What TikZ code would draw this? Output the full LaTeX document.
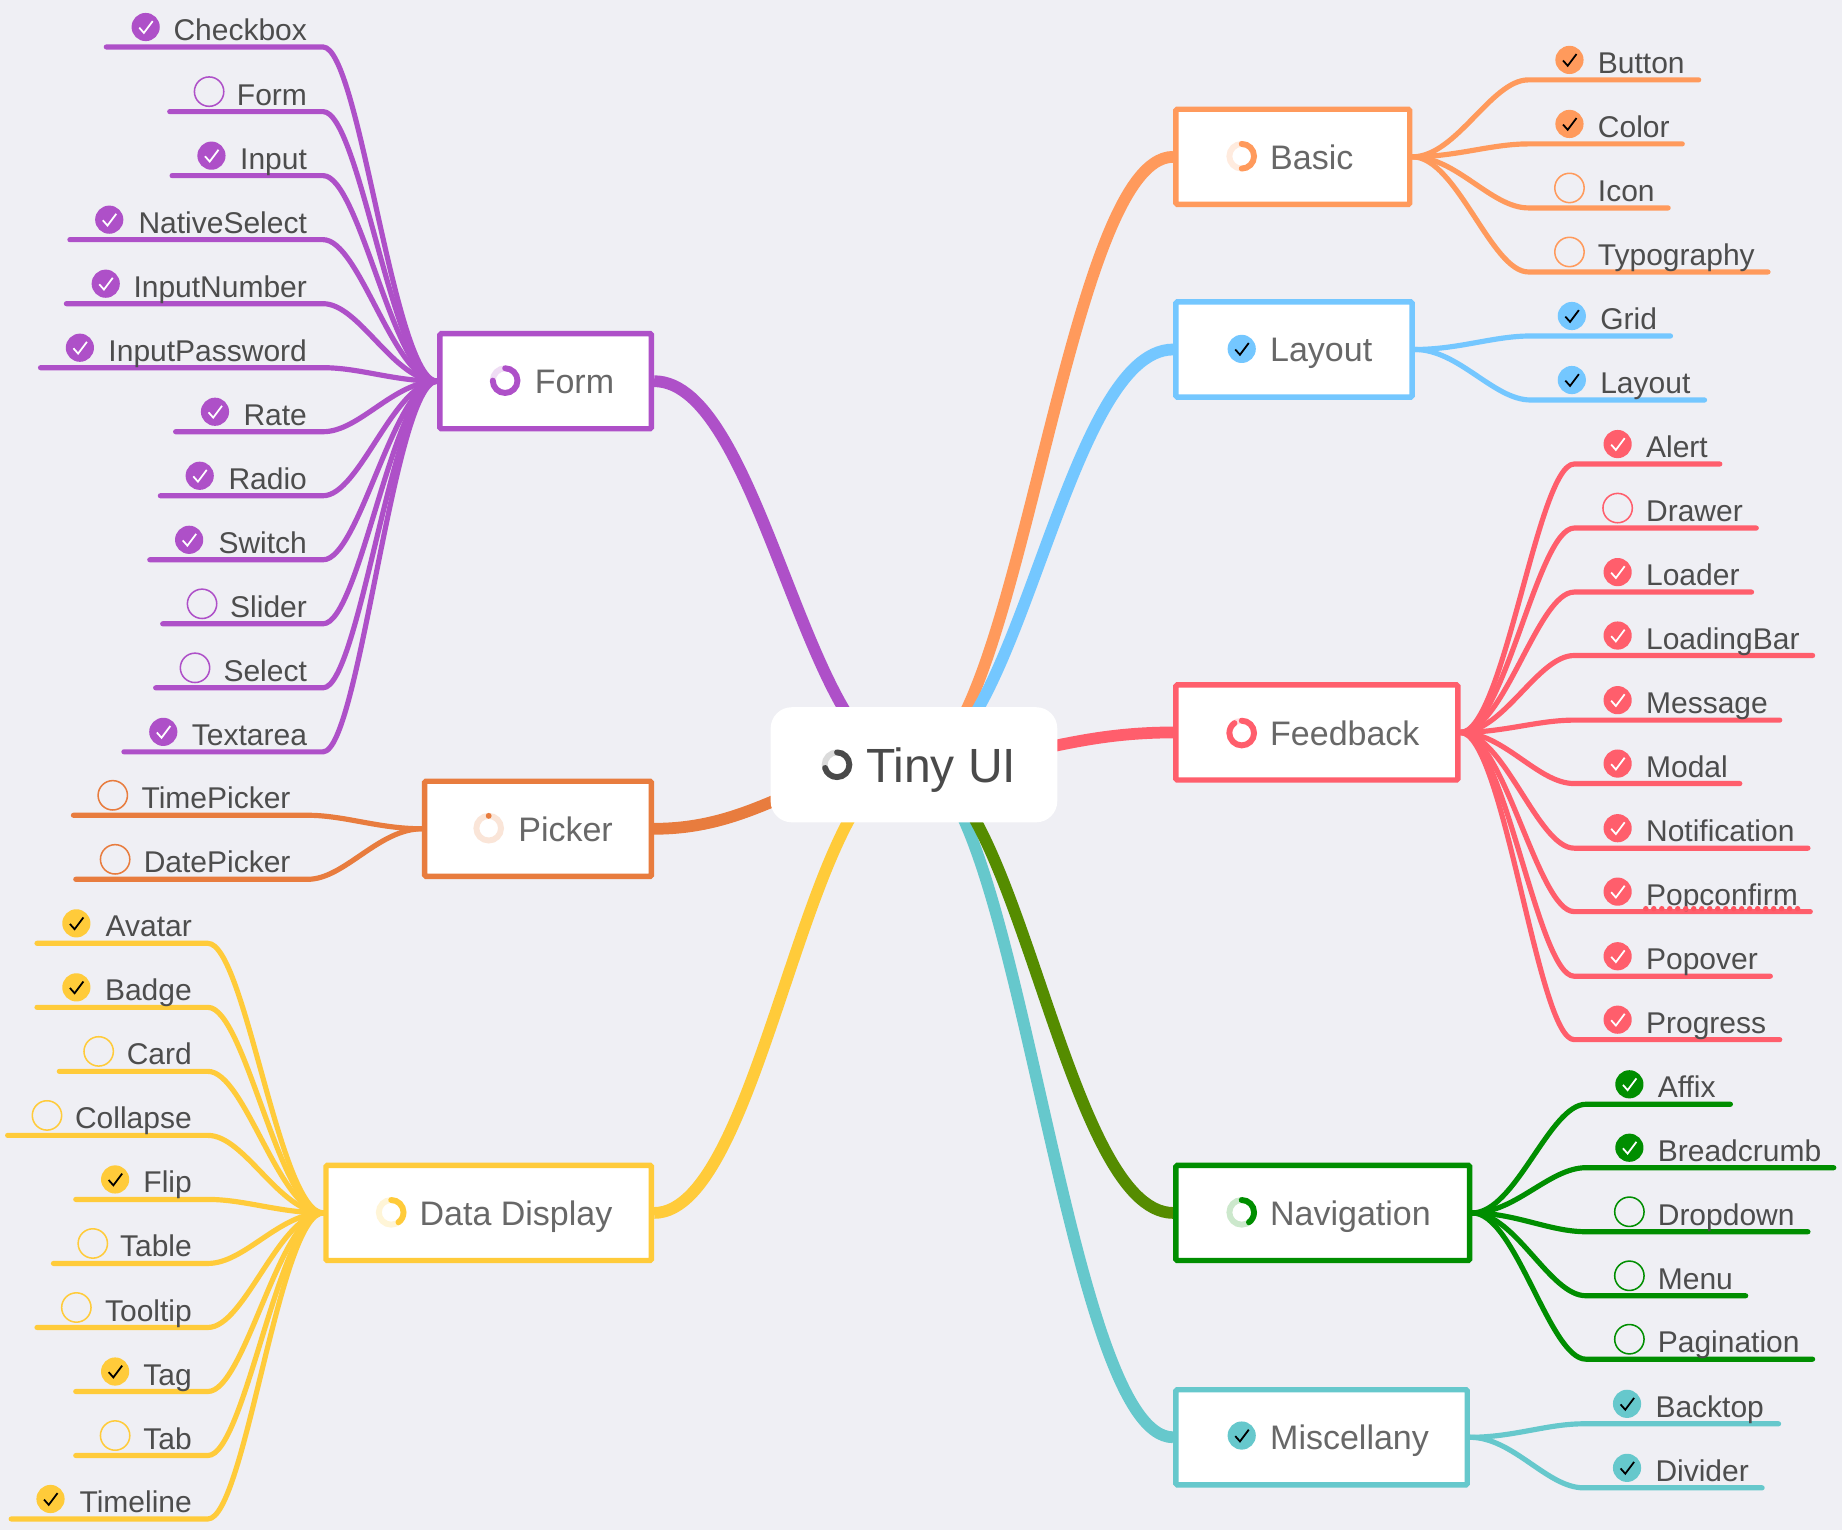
\documentclass[tikz,border=0pt]{standalone}
\usepackage{fontspec}
\setmainfont{Liberation Sans}
\usetikzlibrary{calc,backgrounds}
\definecolor{pagegray}{RGB}{239,239,244}
\definecolor{formpurple}{RGB}{174,80,200}
\definecolor{pickerorange}{RGB}{232,124,62}
\definecolor{dataamber}{RGB}{255,203,58}
\definecolor{basicorange}{RGB}{255,154,92}
\definecolor{layoutblue}{RGB}{116,199,255}
\definecolor{feedbackred}{RGB}{255,94,108}
\definecolor{navgreen}{RGB}{0,142,0}
\definecolor{navolive}{RGB}{85,140,0}
\definecolor{miscteal}{RGB}{102,200,204}
\definecolor{leafink}{RGB}{77,77,77}
\definecolor{boxink}{RGB}{104,104,104}
\definecolor{rootink}{RGB}{74,74,74}
\newcommand{\un}{.88106pt}
\tikzset{
	bough/.style={to path={.. controls ($(\tikztostart)!.38!(\tikztotarget |- \tikztostart)$) and ($(\tikztotarget)!.32!(\tikztostart |- \tikztotarget)$) .. (\tikztotarget)}},
	limbpath/.style={to path={.. controls ($(\tikztostart)!.40!(\tikztotarget |- \tikztostart)$) and ($(\tikztotarget)!.42!(\tikztostart |- \tikztotarget)$) .. (\tikztotarget)}},
	twig/.style={line width=4.4*\un,line cap=round,line join=round},
	limb/.style={line width=10*\un,line cap=butt},
	leaftext/.style={text=leafink,inner sep=0pt,font=\fontsize{22.5}{27}\selectfont},
	boxtext/.style={text=boxink,inner sep=0pt,anchor=base west,font=\fontsize{25.5}{30}\selectfont},
	catbox/.style={
		draw=#1,              % group colour
		fill=white,           % white inside
		line width=4.6*\un,   % heavy border
		rectangle,            % shape
		rounded corners=1pt,  % slight rounding
		minimum height=81*\un % same for all groups
	},
	done/.style={
		circle,
		fill=\twigcol,
		inner sep=0pt,
		minimum size=24*\un,
		path picture={\draw[line width=1.5*\un,\tickcol,shift={(path picture bounding box.center)}] (-5.5,.5) -- (-1.5,5) -- (6,-5);}
	},
	todo/.style={
		circle,
		draw=\twigcol,
		line width=1.3*\un,
		inner sep=0pt,
		minimum size=25*\un
	}
}
% leaf on the right of its group box: parent, name, text, line y, line end, state
\newcommand{\leafR}[6]{%
	\coordinate (#2-b) at (\bendx,#4);
	\coordinate (#2-e) at (#5-1,#4);
	\node[leaftext,anchor=base west] (#2) at (\iconx+24,#4-5.5) {#3};
	\node[#6] (#2-i) at (\iconx,#4-17) {};
	\begin{scope}[on background layer]
		\draw[twig,draw=\twigcol] (#1.east) to[bough] (#2-b) -- (#2-e);
	\end{scope}
}
% leaf on the left of its group box
\newcommand{\leafL}[6]{%
	\coordinate (#2-b) at (\bendx,#4);
	\coordinate (#2-e) at (#5+1.5,#4);
	\node[leaftext,anchor=base east] (#2) at (\textx+.5,#4-5.5) {#3};
	\node[#6] (#2-i) at (#5+35,#4-17) {};
	\begin{scope}[on background layer]
		\draw[twig,draw=\twigcol] (#1.west) to[bough] (#2-b) -- (#2-e);
	\end{scope}
}
% progress ring: x, y, colour, degrees done
\newcommand{\ring}[4]{%
	\draw[#3!20,line width=5*\un] (#1,#2) circle (10.5);
	\draw[#3,line width=5*\un,line cap=round] (#1,#2-10.5) arc[start angle=-90,delta angle=#4,radius=10.5];
}
\begin{document}
\begin{tikzpicture}[x=\un,y=-\un]
	\useasboundingbox (0,0) rectangle (1568,1302.4);
	\begin{scope}[on background layer]
		\fill[pagegray] (0,0) rectangle (1568,1302.4);
	\end{scope}

	\node[
	fill=white,           % white fill
	rectangle,            % shape
	rounded corners=18*\un, % large rounding
	minimum width=244*\un,
	minimum height=98*\un,
	outer sep=0pt
	] (root) at (778,651) {};
	\node[text=rootink,inner sep=0pt,anchor=base west,font=\fontsize{36}{41}\selectfont] (root-t) at (737,666) {Tiny UI};
	\ring{712.5}{651}{rootink}{255}
	\coordinate (hub-l) at (774,651);

	% group boxes
	\node[catbox=formpurple,minimum width=180*\un] (form) at (464.5,324.5) {};
	\node[boxtext] (form-t) at (455,335) {Form};
	\ring{430}{324}{formpurple}{270}
	\node[catbox=pickerorange,minimum width=193*\un] (picker) at (458,705.5) {};
	\node[boxtext] (picker-t) at (441,716) {Picker};
	\draw[pickerorange!20,line width=5*\un] (416,705) circle (10.5);
	\fill[pickerorange] (416,694.5) circle (2.5);
	\node[catbox=dataamber,minimum width=277*\un] (data) at (416,1032.5) {};
	\node[boxtext] (data-t) at (357,1043) {Data Display};
	\ring{333}{1032}{dataamber}{144}
	\node[catbox=basicorange,minimum width=199*\un] (basic) at (1100.5,133.5) {};
	\node[boxtext] (basic-t) at (1081,144) {Basic};
	\ring{1057}{133}{basicorange}{180}
	\node[catbox=layoutblue,minimum width=201*\un] (layout) at (1101.5,297.5) {};
	\node[boxtext] (layout-t) at (1081,308) {Layout};
	\node[catbox=feedbackred,minimum width=240*\un] (feedback) at (1121,623.5) {};
	\node[boxtext] (feedback-t) at (1081,635) {Feedback};
	\ring{1057}{624}{feedbackred}{324}
	\node[catbox=navgreen,minimum width=250*\un] (nav) at (1126,1032.5) {};
	\node[boxtext] (nav-t) at (1081,1043) {Navigation};
	\ring{1057}{1032}{navgreen}{144}
	\node[catbox=miscteal,minimum width=248*\un] (misc) at (1125,1223.5) {};
	\node[boxtext] (misc-t) at (1081,1234) {Miscellany};

	% the two boxes that are complete carry a tick
	\def\tickcol{black}
	\def\twigcol{layoutblue}
	\node[done] (layout-i) at (1057,297) {};
	\def\twigcol{miscteal}
	\node[done] (misc-i) at (1057,1222) {};

	% thick links from the root
	\begin{scope}[on background layer]
		\draw[limb,draw=formpurple] (hub-l) to[limbpath] (form.east);
		\draw[limb,draw=pickerorange] (hub-l) to[limbpath] (picker.east);
		\draw[limb,draw=dataamber] (hub-l) to[limbpath] (data.east);
		\draw[limb,draw=basicorange] (root.center) to[limbpath] (basic.west);
		\draw[limb,draw=layoutblue] (root.center) to[limbpath] (layout.west);
		\draw[limb,draw=feedbackred] (root.center) to[limbpath] (feedback.west);
		\draw[limb,draw=miscteal] (root.center) to[limbpath] (misc.west);
		\draw[limb,draw=navolive] (root.center) to[limbpath] (nav.west);
	\end{scope}

	% Form
	\def\twigcol{formpurple}\def\tickcol{white}\def\bendx{275}\def\textx{261}
	\leafL{form}{f-checkbox}{Checkbox}{40}{89}{done}
	\leafL{form}{f-form}{Form}{95}{143}{todo}
	\leafL{form}{f-input}{Input}{149.5}{145}{done}
	\leafL{form}{f-native}{NativeSelect}{204}{58}{done}
	\leafL{form}{f-number}{InputNumber}{258.5}{55}{done}
	\leafL{form}{f-password}{InputPassword}{313}{33}{done}
	\leafL{form}{f-rate}{Rate}{367.5}{148}{done}
	\leafL{form}{f-radio}{Radio}{422}{135}{done}
	\leafL{form}{f-switch}{Switch}{476.5}{126}{done}
	\leafL{form}{f-slider}{Slider}{531}{137}{todo}
	\leafL{form}{f-select}{Select}{585.5}{131}{todo}
	\leafL{form}{f-textarea}{Textarea}{640}{104}{done}

	% Picker
	\def\twigcol{pickerorange}\def\bendx{262}\def\textx{247}
	\leafL{picker}{p-time}{TimePicker}{694}{61}{todo}
	\leafL{picker}{p-date}{DatePicker}{748.5}{63}{todo}

	% Data Display
	\def\twigcol{dataamber}\def\tickcol{black}\def\bendx{177}\def\textx{163}
	\leafL{data}{d-avatar}{Avatar}{803}{30}{done}
	\leafL{data}{d-badge}{Badge}{857.5}{30}{done}
	\leafL{data}{d-card}{Card}{912}{49}{todo}
	\leafL{data}{d-collapse}{Collapse}{966.5}{5}{todo}
	\leafL{data}{d-flip}{Flip}{1021}{63}{done}
	\leafL{data}{d-table}{Table}{1075.5}{44}{todo}
	\leafL{data}{d-tooltip}{Tooltip}{1130}{30}{todo}
	\leafL{data}{d-tag}{Tag}{1184.5}{63}{done}
	\leafL{data}{d-tab}{Tab}{1239}{63}{todo}
	\leafL{data}{d-timeline}{Timeline}{1293}{8}{done}

	% Basic
	\def\twigcol{basicorange}\def\bendx{1301}\def\iconx{1336}
	\leafR{basic}{b-button}{Button}{68}{1447}{done}
	\leafR{basic}{b-color}{Color}{122.5}{1433}{done}
	\leafR{basic}{b-icon}{Icon}{177}{1421}{todo}
	\leafR{basic}{b-type}{Typography}{231.5}{1506}{todo}

	% Layout
	\def\twigcol{layoutblue}\def\bendx{1303}\def\iconx{1338}
	\leafR{layout}{l-grid}{Grid}{286}{1423}{done}
	\leafR{layout}{l-layout}{Layout}{340.5}{1452}{done}

	% Feedback
	\def\twigcol{feedbackred}\def\tickcol{white}\def\bendx{1340}\def\iconx{1377}
	\leafR{feedback}{e-alert}{Alert}{395}{1465}{done}
	\leafR{feedback}{e-drawer}{Drawer}{449.5}{1496}{todo}
	\leafR{feedback}{e-loader}{Loader}{504}{1492}{done}
	\leafR{feedback}{e-bar}{LoadingBar}{558}{1544}{done}
	\leafR{feedback}{e-message}{Message}{613}{1516}{done}
	\leafR{feedback}{e-modal}{Modal}{667}{1482}{done}
	\leafR{feedback}{e-notify}{Notification}{722}{1540}{done}
	\leafR{feedback}{e-confirm}{Popconfirm}{776}{1542}{done}
	\leafR{feedback}{e-popover}{Popover}{831}{1508}{done}
	\leafR{feedback}{e-progress}{Progress}{885}{1516}{done}
	\draw[feedbackred!90!red,line width=4.6*\un,line cap=round,dash pattern=on 0pt off 6.8*\un] ([yshift=-3*\un]e-confirm.base west) -- ([yshift=-3*\un]e-confirm.base east);

	% Navigation
	\def\twigcol{navgreen}\def\bendx{1350}\def\iconx{1387}
	\leafR{nav}{n-affix}{Affix}{940}{1474}{done}
	\leafR{nav}{n-bread}{Breadcrumb}{994}{1562}{done}
	\leafR{nav}{n-drop}{Dropdown}{1048.5}{1540}{todo}
	\leafR{nav}{n-menu}{Menu}{1103}{1487}{todo}
	\leafR{nav}{n-page}{Pagination}{1157}{1544}{todo}

	% Miscellany
	\def\twigcol{miscteal}\def\tickcol{black}\def\bendx{1348}\def\iconx{1385}
	\leafR{misc}{m-back}{Backtop}{1212}{1515}{done}
	\leafR{misc}{m-divider}{Divider}{1266.5}{1501}{done}
\end{tikzpicture}
\end{document}
